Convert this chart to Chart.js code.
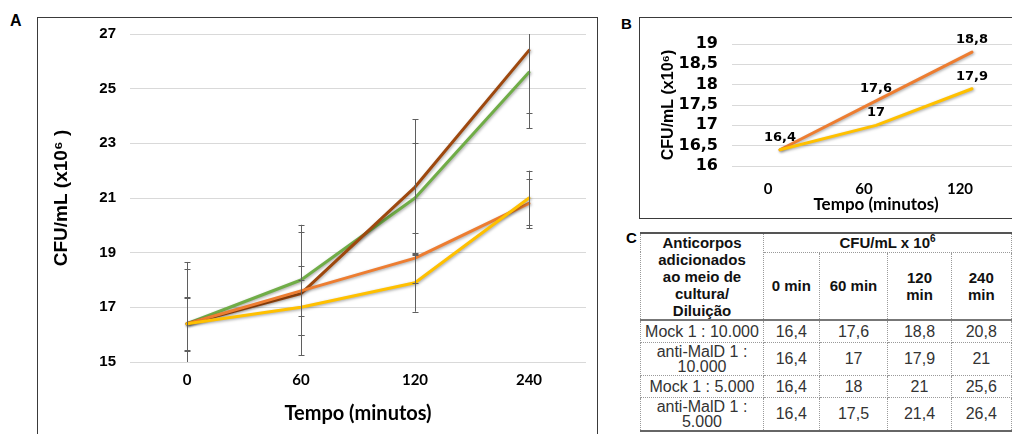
<!DOCTYPE html>
<html lang="pt-br">
<head>
  <meta charset="UTF-8">
  <title>Crescimento bacteriano - anticorpos</title>
  <script src="https://cdn.jsdelivr.net/npm/chart.js"></script>
  <style>
    body { margin: 0; width: 1012px; height: 434px; overflow: hidden; position: relative; background: #fff; font-family: "Liberation Sans", Arial, sans-serif; }
    .letra { position: absolute; font-weight: bold; font-size: 15px; color: #000; }
    .quadro { position: absolute; border: 1.5px solid #3a3a3a; box-sizing: border-box; }
    canvas { position: absolute; }
    #tabela { position: absolute; left: 640px; top: 232px; border-collapse: collapse; table-layout: fixed; color: #333; }
    #tabela th, #tabela td { border: 1px dotted #9a9a9a; padding: 0 2px; text-align: center; vertical-align: middle; }
    #tabela th { font-weight: bold; font-size: 15px; line-height: 17px; color: #111; }
    #tabela td { font-size: 16px; line-height: 15px; }
    #tabela sup { font-size: 10px; line-height: 0; }
    #tabela tr.topo th { border-top: 2px solid #555; }
    #tabela tr.cabeca th, #tabela th.c1 { border-bottom: 2px solid #777; }
    #tabela tr.ultima td { border-bottom: 2px solid #666; }
  </style>
</head>
<body>
  <div class="letra" style="left:10px; top:12px; font-size:16px;">A</div>
  <div class="quadro" style="left:37px; top:17px; width:561px; height:440px;"></div>
  <canvas id="chartA" width="557" height="415" style="left:39px; top:19px;"></canvas>

  <div class="letra" style="left:621px; top:15px;">B</div>
  <div class="quadro" style="left:639px; top:17px; width:420px; height:202px;"></div>
  <canvas id="chartB" width="400" height="198" style="left:641px; top:19px;"></canvas>

  <div class="letra" style="left:626px; top:229px;">C</div>
  <table id="tabela">
    <colgroup><col style="width:125px"><col style="width:57px"><col style="width:71px"><col style="width:65px"><col style="width:62px"></colgroup>
    <tr class="topo" style="height:19px">
      <th class="c1" rowspan="2">Anticorpos<br>adicionados<br>ao meio de<br>cultura/<br>Diluição</th>
      <th colspan="4">CFU/mL x 10<sup>6</sup></th>
    </tr>
    <tr class="cabeca" style="height:67px" id="linhaTempos"></tr>
  </table>

<script>
  // tempos (minutos)
  const tempos = ['0', '60', '120', '240'];
  const colunasTabela = ['0 min', '60 min', '120<br>min', '240<br>min'];

  // CFU/mL x 10^6
  const mock10k = [16.4, 17.6, 18.8, 20.8];
  const antiMalD10k = [16.4, 17, 17.9, 21];
  const mock5k = [16.4, 18, 21, 25.6];
  const antiMalD5k = [16.4, 17.5, 21.4, 26.4];

  // barras de erro (+/-)
  const errMock10k = [0.98, 0.92, 0.92, 0.9];
  const errAnti10k = [0.95, 1.0, 1.06, 1.0];
  const errMock5k = [2.0, 2.02, 2.0, 2.04];
  const errAnti5k = [2.26, 2.26, 2.49, 2.29];

  // painel B
  const temposB = ['0', '60', '120'];
  const mockB = [16.4, 17.6, 18.8];
  const antiB = [16.4, 17, 17.9];
  const rotuloMockB = [true, true, true];
  const rotuloAntiB = [false, true, true];

  const nomesLinhas = ['Mock 1 : 10.000', 'anti-MalD 1 : 10.000', 'Mock 1 : 5.000', 'anti-MalD 1 : 5.000'];
  const alturasLinhas = [22, 33, 22, 34];

  const virgula = v => String(v).replace('.', ',');

  // tabela C
  const linhaTempos = document.getElementById('linhaTempos');
  colunasTabela.forEach(c => { linhaTempos.innerHTML += '<th>' + c + '</th>'; });
  const tabela = document.getElementById('tabela');
  [mock10k, antiMalD10k, mock5k, antiMalD5k].forEach((serie, i) => {
    let tr = document.createElement('tr');
    tr.style.height = alturasLinhas[i] + 'px';
    if (i == 3) tr.className = 'ultima';
    let html = '<td>' + nomesLinhas[i] + '</td>';
    serie.forEach(v => { html += '<td>' + virgula(v) + '</td>'; });
    tr.innerHTML = html;
    tabela.appendChild(tr);
  });

  const sombra = {
    id: 'sombra',
    beforeDatasetsDraw(chart) {
      const ctx = chart.ctx;
      ctx.save();
      ctx.shadowColor = 'rgba(0,0,0,0.35)';
      ctx.shadowBlur = 3;
      ctx.shadowOffsetX = 1;
      ctx.shadowOffsetY = 1;
    },
    afterDatasetsDraw(chart) {
      chart.ctx.restore();
    }
  };

  const barrasErro = {
    id: 'barrasErro',
    afterDatasetsDraw(chart) {
      const ctx = chart.ctx;
      const area = chart.chartArea;
      const y = chart.scales.y;
      ctx.save();
      ctx.strokeStyle = '#5f5f5f';
      ctx.lineWidth = 1;
      chart.data.datasets.forEach((ds, i) => {
        const meta = chart.getDatasetMeta(i);
        ds.erros.forEach((e, j) => {
          const x = Math.round(meta.data[j].x) + 0.5;
          const yTop = y.getPixelForValue(ds.data[j] + e);
          const yBot = y.getPixelForValue(ds.data[j] - e);
          ctx.beginPath();
          ctx.moveTo(x, Math.max(yTop, area.top));
          ctx.lineTo(x, Math.min(yBot, area.bottom));
          [yTop, yBot].forEach(yy => {
            if (yy >= area.top && yy <= area.bottom) {
              ctx.moveTo(x - 3, Math.round(yy) + 0.5);
              ctx.lineTo(x + 3, Math.round(yy) + 0.5);
            }
          });
          ctx.stroke();
        });
      });
      ctx.restore();
    }
  };

  const rotulos = {
    id: 'rotulos',
    afterDatasetsDraw(chart) {
      const ctx = chart.ctx;
      ctx.save();
      ctx.font = 'bold 13px "DejaVu Sans"';
      ctx.fillStyle = '#000';
      ctx.textAlign = 'center';
      ctx.textBaseline = 'bottom';
      chart.data.datasets.forEach((ds, i) => {
        const meta = chart.getDatasetMeta(i);
        ds.mostrar.forEach((m, j) => {
          if (!m) return;
          ctx.fillText(virgula(ds.data[j]), meta.data[j].x, meta.data[j].y - 6);
        });
      });
      ctx.restore();
    }
  };

  Chart.defaults.font.family = '"Liberation Sans", Arial, sans-serif';
  Chart.defaults.color = '#000';

  new Chart(document.getElementById('chartA'), {
    type: 'line',
    data: {
      labels: tempos,
      datasets: [
        { label: 'anti-MalD 1 : 10.000', data: antiMalD10k, erros: errAnti10k, borderColor: '#FFC000' },
        { label: 'Mock 1 : 10.000', data: mock10k, erros: errMock10k, borderColor: '#ED7D31' },
        { label: 'anti-MalD 1 : 5.000', data: antiMalD5k, erros: errAnti5k, borderColor: '#9E480E' },
        { label: 'Mock 1 : 5.000', data: mock5k, erros: errMock5k, borderColor: '#70AD47' }
      ]
    },
    options: {
      responsive: false,
      animation: false,
      layout: { padding: { top: 15, right: 10 } },
      plugins: { legend: { display: false }, tooltip: { enabled: false } },
      elements: {
        point: { radius: 0 },
        line: { borderWidth: 3, tension: 0, borderJoinStyle: 'round', borderCapStyle: 'round' }
      },
      scales: {
        x: {
          offset: true,
          grid: { display: false },
          border: { display: false },
          ticks: { font: { family: 'Lato', weight: 'bold', size: 15 }, padding: 1 },
          title: { display: true, text: 'Tempo (minutos)', font: { family: 'Lato', weight: 'bold', size: 20 }, padding: { top: 0, bottom: 8 } },
          afterFit(s) { s.height = 72; }
        },
        y: {
          min: 15, max: 27,
          grid: { color: '#d9d9d9', drawTicks: true, tickLength: 14, tickColor: 'rgba(0,0,0,0)' },
          border: { display: false },
          ticks: { stepSize: 2, font: { weight: 'bold', size: 15 }, padding: 0 },
          title: { display: true, text: 'CFU/mL (x10⁶ )', font: { weight: 'bold', size: 19 }, padding: { top: 11, bottom: 0 } },
          afterFit(s) { s.width = 91; }
        }
      }
    },
    plugins: [sombra, barrasErro]
  });

  new Chart(document.getElementById('chartB'), {
    type: 'line',
    data: {
      labels: temposB,
      datasets: [
        { label: 'anti-MalD 1 : 10.000', data: antiB, mostrar: rotuloAntiB, borderColor: '#FFC000' },
        { label: 'Mock 1 : 10.000', data: mockB, mostrar: rotuloMockB, borderColor: '#ED7D31' }
      ]
    },
    options: {
      responsive: false,
      animation: false,
      layout: { padding: { top: 25, right: 21 } },
      plugins: { legend: { display: false }, tooltip: { enabled: false } },
      elements: {
        point: { radius: 0 },
        line: { borderWidth: 3, tension: 0, borderJoinStyle: 'round', borderCapStyle: 'round' }
      },
      scales: {
        x: {
          offset: true,
          grid: { display: false },
          border: { display: false },
          ticks: { font: { family: 'Lato', weight: 'bold', size: 15 }, padding: 6, labelOffset: -12 },
          title: { display: true, text: 'Tempo (minutos)', font: { family: 'Lato', weight: 'bold', size: 17 }, padding: { top: 0, bottom: 2 } },
          afterFit(s) { s.height = 51; }
        },
        y: {
          min: 16, max: 19,
          grid: { color: '#d9d9d9', drawTicks: true, tickLength: 14, tickColor: 'rgba(0,0,0,0)' },
          border: { display: false },
          ticks: { stepSize: 0.5, autoSkip: false, font: { family: 'DejaVu Sans', weight: 'bold', size: 16 }, padding: 0, callback: v => virgula(v) },
          title: { display: true, text: 'CFU/mL (x10⁶)', font: { weight: 'bold', size: 16 }, padding: { top: 18, bottom: 0 } },
          afterFit(s) { s.width = 91; }
        }
      }
    },
    plugins: [sombra, rotulos]
  });
</script>
</body>
</html>
